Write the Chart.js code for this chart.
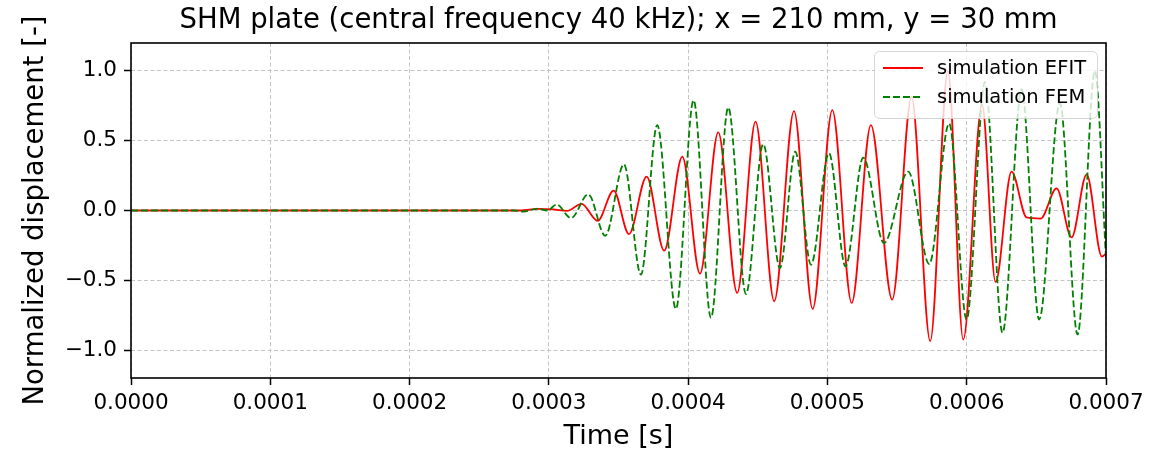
<!DOCTYPE html>
<html>
<head>
<meta charset="utf-8">
<script src="https://cdn.jsdelivr.net/npm/chart.js@4.4.1/dist/chart.umd.min.js"></script>
<style>
html,body{margin:0;padding:0;background:#ffffff;}
#wrap{width:1171px;height:453px;}
canvas{display:block;}
</style>
</head>
<body>
<div id="wrap"><canvas id="c" width="1171" height="453" style="width:1171px;height:453px"></canvas></div>
<script>
// ---------- data ----------
const titleText = "SHM plate (central frequency 40 kHz); x = 210 mm, y = 30 mm";
const xAxisLabel = "Time [s]";
const yAxisLabel = "Normalized displacement [-]";
const seriesNames = ["simulation EFIT", "simulation FEM"];

const xTickValues = [0, 0.0001, 0.0002, 0.0003, 0.0004, 0.0005, 0.0006, 0.0007];
const xTickLabels = ["0.0000", "0.0001", "0.0002", "0.0003", "0.0004", "0.0005", "0.0006", "0.0007"];
const yTickValues = [-1.0, -0.5, 0.0, 0.5, 1.0];
const yTickLabels = ["\u22121.0", "\u22120.5", "0.0", "0.5", "1.0"];

// times in microseconds
const efitTimeUs = [0, 280, 292, 303, 313, 323.5, 335, 346.5, 357.5, 370.2, 382.8, 395.8, 408.5, 421.6, 435.2,
  448.4, 461.8, 476, 489.4, 503.5, 517.4, 531.2, 546.5, 560.4, 573.8, 586.5, 597.5, 611, 620.7, 632.2,
  643, 653, 664.5, 675.3, 686.1, 697, 700];
const efitValue = [0, 0, 0.012, 0.008, -0.003, 0.048, -0.074, 0.143, -0.169, 0.243, -0.288, 0.386, -0.452, 0.559, -0.59,
  0.636, -0.65, 0.712, -0.705, 0.719, -0.662, 0.612, -0.638, 0.814, -0.936, 1.0, -0.924, 0.76, -0.512, 0.279,
  -0.05, -0.058, 0.159, -0.193, 0.259, -0.33, -0.31];

const femTimeUs = [0, 275, 282, 292, 299, 305.6, 315.9, 328.3, 340.5, 353.9, 366.1, 377.8, 391.2, 403.9, 416.4,
  428.8, 441.5, 453.9, 465.9, 476.9, 488.2, 501.1, 513, 525.7, 540.6, 558, 573.1, 587.4, 599.9, 613.1,
  625.7, 639.4, 652, 666.9, 679.6, 692, 700];
const femValue = [0, 0, -0.007, 0.014, 0.0, 0.043, -0.055, 0.116, -0.181, 0.331, -0.46, 0.612, -0.705, 0.79, -0.769,
  0.738, -0.598, 0.476, -0.412, 0.421, -0.388, 0.41, -0.4, 0.379, -0.233, 0.279, -0.383, 0.624, -0.781, 0.92,
  -0.876, 0.87, -0.781, 0.77, -0.888, 1.0, -0.34];

// ---------- chart ----------
const FONT = "'DejaVu Sans', 'Liberation Sans', sans-serif";
Chart.defaults.font.family = FONT;
Chart.defaults.color = '#000000';

const toPoints = (tUs, v) => tUs.map((t, i) => ({x: t * 1e-6, y: v[i]}));

const framePlugin = {
  id: 'frame',
  afterDatasetsDraw(chart) {
    const {ctx, chartArea: a} = chart;
    ctx.save();
    ctx.strokeStyle = '#000000';
    ctx.lineWidth = 1.6;
    ctx.setLineDash([]);
    ctx.strokeRect(a.left, a.top, a.right - a.left, a.bottom - a.top);
    ctx.restore();
  }
};

// title centred over the plot area (matplotlib style)
const axesTitlePlugin = {
  id: 'axesTitle',
  afterDraw(chart) {
    const {ctx, chartArea: a} = chart;
    ctx.save();
    ctx.fillStyle = '#000000';
    ctx.font = "27.5px " + FONT;
    ctx.textAlign = 'center';
    ctx.textBaseline = 'middle';
    ctx.fillText(titleText, (a.left + a.right) / 2, a.top - 22);
    ctx.restore();
  }
};

function roundRectPath(ctx, x, y, w, h, r) {
  ctx.beginPath();
  ctx.moveTo(x + r, y);
  ctx.lineTo(x + w - r, y);
  ctx.arcTo(x + w, y, x + w, y + r, r);
  ctx.lineTo(x + w, y + h - r);
  ctx.arcTo(x + w, y + h, x + w - r, y + h, r);
  ctx.lineTo(x + r, y + h);
  ctx.arcTo(x, y + h, x, y + h - r, r);
  ctx.lineTo(x, y + r);
  ctx.arcTo(x, y, x + r, y, r);
  ctx.closePath();
}

const legendPlugin = {
  id: 'mplLegend',
  afterDraw(chart) {
    const {ctx, chartArea: a} = chart;
    const bx = a.right - 232, by = a.top + 8, bw = 223, bh = 67;
    ctx.save();
    roundRectPath(ctx, bx + 0.5, by + 0.5, bw, bh, 5);
    ctx.fillStyle = 'rgba(255,255,255,0.8)';
    ctx.fill();
    ctx.strokeStyle = 'rgba(204,204,204,0.8)';
    ctx.lineWidth = 1;
    ctx.stroke();
    seriesNames.forEach((name, i) => {
      const ds = chart.data.datasets.find(d => d.label === name);
      const yy = by + 17 + i * 29;
      ctx.beginPath();
      ctx.strokeStyle = ds.borderColor;
      ctx.lineWidth = ds.borderWidth;
      ctx.setLineDash(ds.borderDash || []);
      ctx.moveTo(bx + 9, yy);
      ctx.lineTo(bx + 49, yy);
      ctx.stroke();
      ctx.setLineDash([]);
      ctx.fillStyle = '#000000';
      ctx.font = "19.5px " + FONT;
      ctx.textBaseline = 'middle';
      ctx.textAlign = 'left';
      ctx.fillText(ds.label, bx + 63, yy + 1);
    });
    ctx.restore();
  }
};

new Chart(document.getElementById('c'), {
  type: 'line',
  data: {
    datasets: [
      {
        label: seriesNames[0],
        data: toPoints(efitTimeUs, efitValue),
        borderColor: '#ff0000',
        borderWidth: 1.8,
        borderDash: [],
        pointRadius: 0,
        fill: false,
        order: 1,
        cubicInterpolationMode: 'monotone'
      },
      {
        label: seriesNames[1],
        data: toPoints(femTimeUs, femValue),
        borderColor: '#008000',
        borderWidth: 1.8,
        borderDash: [7, 3],
        pointRadius: 0,
        fill: false,
        order: 0,
        cubicInterpolationMode: 'monotone'
      }
    ]
  },
  options: {
    responsive: false,
    animation: false,
    devicePixelRatio: 1,
    layout: {padding: {left: 0, right: 65, top: 43, bottom: 0}},
    plugins: {
      legend: {display: false},
      tooltip: {enabled: false},
      title: {display: false}
    },
    scales: {
      x: {
        type: 'linear',
        min: 0,
        max: 0.0007,
        afterBuildTicks: (s) => { s.ticks = xTickValues.map(v => ({value: v})); },
        afterFit: (s) => { s.height = 75; },
        ticks: {
          autoSkip: false,
          maxRotation: 0,
          padding: 6,
          font: {size: 21.5, family: FONT},
          color: '#000000',
          callback: (v, i) => xTickLabels[i]
        },
        grid: {
          color: '#c4c4c4', lineWidth: 1, drawTicks: true, tickLength: 7,
          tickColor: '#000000', tickWidth: 1.5, tickBorderDash: []
        },
        border: {display: false, dash: [4, 2.5]},
        title: {
          display: true, text: xAxisLabel, color: '#000000',
          font: {size: 27, family: FONT}, padding: {top: 0, bottom: 0}
        }
      },
      y: {
        type: 'linear',
        min: -1.2,
        max: 1.2,
        afterBuildTicks: (s) => { s.ticks = yTickValues.map(v => ({value: v})); },
        afterFit: (s) => { s.width = 131; },
        ticks: {
          autoSkip: false,
          padding: 7,
          font: {size: 21.5, family: FONT},
          color: '#000000',
          callback: (v, i) => yTickLabels[i]
        },
        grid: {
          color: '#c4c4c4', lineWidth: 1, drawTicks: true, tickLength: 7,
          tickColor: '#000000', tickWidth: 1.5, tickBorderDash: []
        },
        border: {display: false, dash: [4, 2.5]},
        title: {
          display: true, text: yAxisLabel, color: '#000000',
          font: {size: 27.5, family: FONT}, padding: {top: 19, bottom: 0}
        }
      }
    }
  },
  plugins: [framePlugin, axesTitlePlugin, legendPlugin]
});
</script>
</body>
</html>
